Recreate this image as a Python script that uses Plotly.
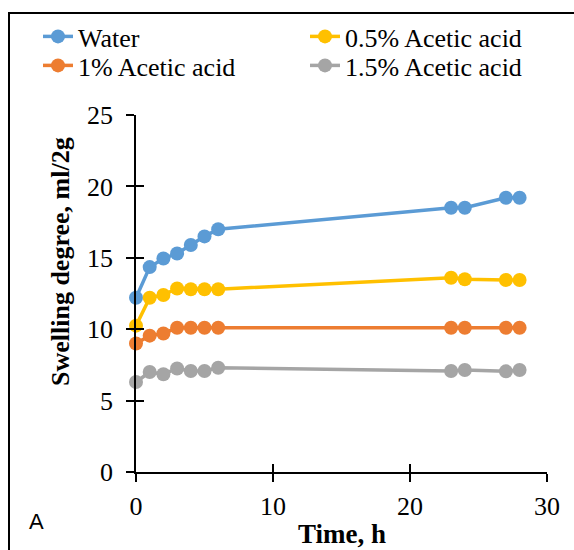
import plotly.graph_objects as go

time_h = [0, 1, 2, 3, 4, 5, 6, 23, 24, 27, 28]
water = [12.2, 14.35, 14.95, 15.3, 15.9, 16.5, 17.0, 18.5, 18.5, 19.2, 19.2]
acetic_05 = [10.25, 12.2, 12.4, 12.85, 12.8, 12.8, 12.8, 13.6, 13.5, 13.45, 13.45]
acetic_1 = [9.0, 9.55, 9.7, 10.1, 10.1, 10.1, 10.1, 10.1, 10.1, 10.1, 10.1]
acetic_15 = [6.3, 7.0, 6.85, 7.25, 7.07, 7.07, 7.3, 7.07, 7.14, 7.05, 7.14]

names = ["Water", "0.5% Acetic acid", "1% Acetic acid", "1.5% Acetic acid"]
series = [water, acetic_05, acetic_1, acetic_15]
colors = ["#5B9BD5", "#FFC000", "#ED7D31", "#A5A5A5"]
legend_rows = ["legend", "legend", "legend2", "legend2"]

x_ticks = [0, 10, 20, 30]
y_ticks = [0, 5, 10, 15, 20, 25]

W, H = 574, 550
ML, MR, MT, MB = 136, 27, 115, 78
PW, PH = W - ML - MR, H - MT - MB

def px_x(p):
    return (p - ML) / PW

def px_y(p):
    return (H - MB - p) / PH

fig = go.Figure()
for n, s, c, lg in zip(names, series, colors, legend_rows):
    fig.add_trace(go.Scatter(
        x=time_h, y=s, name=n, mode="lines+markers",
        line=dict(color=c, width=3.5),
        marker=dict(color=c, size=14),
        cliponaxis=False, legend=lg,
    ))

serif = "Liberation Serif, Times New Roman, serif"
FS = 26
line_common = dict(showgrid=False, zeroline=False, showline=True, linecolor="black",
                   linewidth=1.5, tickcolor="black", tickwidth=1.5, ticklen=8,
                   automargin=False)
tickfont = dict(family=serif, size=FS, color="black")
legend_common = dict(orientation="h", xanchor="left", yanchor="top",
                     entrywidth=222, entrywidthmode="pixels",
                     font=dict(family=serif, size=FS, color="black"),
                     bgcolor="rgba(0,0,0,0)", traceorder="normal")

fig.update_layout(
    width=W, height=H,
    margin=dict(l=ML, r=MR, t=MT, b=MB, autoexpand=False),
    paper_bgcolor="white", plot_bgcolor="white",
    showlegend=True,
    legend=dict(x=px_x(38), y=px_y(13), **legend_common),
    legend2=dict(x=px_x(38), y=px_y(42), **legend_common),
    xaxis=dict(range=[0, 30], tickvals=x_ticks, ticks="outside", tickfont=tickfont,
               ticklabelstandoff=2, **line_common),
    yaxis=dict(range=[0, 25], tickvals=y_ticks, ticks="outside", tickfont=tickfont,
               ticklabelstandoff=8, **line_common),
    xaxis2=dict(range=[0, 30], tickvals=x_ticks, ticks="inside", overlaying="x", anchor="y",
                side="bottom", showticklabels=False, **line_common),
    yaxis2=dict(range=[0, 25], tickvals=y_ticks, ticks="inside", overlaying="y", anchor="x",
                side="left", showticklabels=False, **line_common),
)

fig.add_trace(go.Scatter(x=[], y=[], xaxis="x2", yaxis="y2", showlegend=False, hoverinfo="skip"))

fig.add_annotation(text="<b>Swelling degree, ml/2g</b>", xref="paper", yref="paper",
                   x=px_x(60), y=px_y(262), xanchor="center", yanchor="middle",
                   textangle=-90, showarrow=False,
                   font=dict(family=serif, size=FS, color="black"))
fig.add_annotation(text="<b>Time, h</b>", xref="paper", yref="paper",
                   x=px_x(341.5), y=px_y(534), xanchor="center", yanchor="middle",
                   showarrow=False, font=dict(family=serif, size=27, color="black"))
fig.add_annotation(text="A", xref="paper", yref="paper", x=px_x(36), y=px_y(521),
                   xanchor="center", yanchor="middle",
                   showarrow=False, font=dict(family="Liberation Sans, Arial, sans-serif", size=22, color="black"))

fig.add_shape(type="rect", xref="paper", yref="paper",
              x0=px_x(9), x1=px_x(700), y0=px_y(700), y1=px_y(13),
              line=dict(color="black", width=2), fillcolor="rgba(0,0,0,0)", layer="below")

fig.write_html("out.html")
